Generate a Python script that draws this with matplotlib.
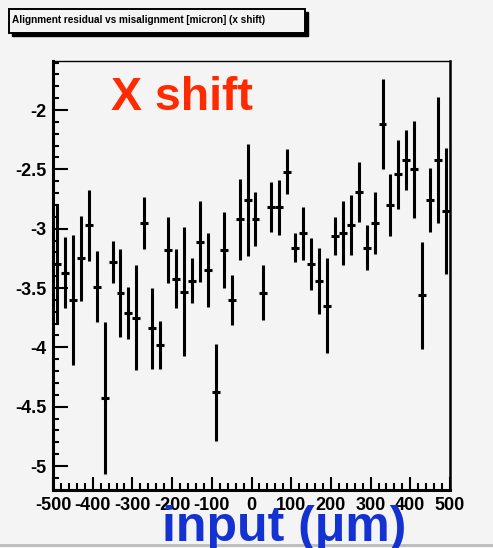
import matplotlib.pyplot as plt
from matplotlib.patches import Rectangle
from matplotlib.ticker import MultipleLocator

# bin centres (input misalignment, micron) and fitted residual with error
bin_centres = [-490, -470, -450, -430, -410, -390, -370, -350, -330, -310,
               -290, -270, -250, -230, -210, -190, -170, -150, -130, -110,
               -90, -70, -50, -30, -10, 10, 30, 50, 70, 90,
               110, 130, 150, 170, 190, 210, 230, 250, 270, 290,
               310, 330, 350, 370, 390, 410, 430, 450, 470, 490]
residual = [-3.30, -3.37, -3.60, -3.25, -2.97, -3.49, -4.43, -3.28, -3.54, -3.71,
            -3.75, -2.95, -3.84, -3.98, -3.18, -3.42, -3.53, -3.44, -3.11, -3.35,
            -4.38, -3.18, -3.60, -2.92, -2.76, -2.92, -3.54, -2.82, -2.82, -2.52,
            -3.16, -3.04, -3.30, -3.44, -3.65, -3.06, -3.04, -2.97, -2.69, -3.16,
            -2.95, -2.12, -2.80, -2.54, -2.42, -2.50, -3.56, -2.76, -2.42, -2.85]
residual_err = [0.50, 0.30, 0.55, 0.36, 0.30, 0.30, 0.64, 0.18, 0.37, 0.22,
                0.44, 0.22, 0.34, 0.20, 0.28, 0.25, 0.54, 0.19, 0.34, 0.31,
                0.41, 0.32, 0.21, 0.34, 0.47, 0.23, 0.23, 0.21, 0.23, 0.19,
                0.12, 0.22, 0.22, 0.28, 0.40, 0.16, 0.27, 0.25, 0.25, 0.19,
                0.26, 0.38, 0.26, 0.29, 0.25, 0.41, 0.45, 0.27, 0.53, 0.53]
bin_half_width = 10

W, H = 493, 548
bg = "#f4f4f4"
plt.rcParams["font.family"] = ["Liberation Sans", "DejaVu Sans"]
plt.rcParams["font.weight"] = "bold"
plt.rcParams["axes.unicode_minus"] = False

fig = plt.figure(figsize=(W / 100, H / 100), dpi=100, facecolor=bg)
ax = fig.add_axes([53 / W, 1 - 490 / H, (450 - 53) / W, (490 - 61) / H])
ax.set_facecolor(bg)

ax.errorbar(bin_centres, residual, yerr=residual_err, xerr=bin_half_width,
            fmt="none", ecolor="black", elinewidth=2.2, capsize=0)

ax.set_xlim(-500, 500)
ax.set_ylim(-5.202, -1.587)
ax.xaxis.set_major_locator(MultipleLocator(100))
ax.xaxis.set_minor_locator(MultipleLocator(20))
ax.yaxis.set_major_locator(MultipleLocator(0.5))
ax.yaxis.set_minor_locator(MultipleLocator(0.1))
ax.tick_params(which="both", direction="in", top=False, right=False,
               width=1.5, labelsize=13)
ax.tick_params(axis="x", which="major", length=9.5, pad=5)
ax.tick_params(axis="x", which="minor", length=5)
ax.tick_params(axis="y", which="major", length=10.5, pad=5)
ax.tick_params(axis="y", which="minor", length=4.5)
ax.set_yticks([-2, -2.5, -3, -3.5, -4, -4.5, -5])
ax.set_yticklabels(["-2", "-2.5", "-3", "-3.5", "-4", "-4.5", "-5"])
for lab in ax.get_xticklabels() + ax.get_yticklabels():
    lab.set_fontweight("bold")

ax.spines["left"].set_linewidth(2.2)
ax.spines["bottom"].set_linewidth(2.2)
ax.spines["right"].set_linewidth(1.8)
ax.spines["top"].set_linewidth(1.0)

# title box with shadow, ROOT style
fig.patches.append(Rectangle((12 / W, 1 - 36 / H), 296 / W, 24 / H,
                             transform=fig.transFigure, facecolor="black",
                             edgecolor="black", zorder=1))
fig.patches.append(Rectangle((9 / W, 1 - 33 / H), 296 / W, 24 / H,
                             transform=fig.transFigure, facecolor=bg,
                             edgecolor="black", linewidth=1.4, zorder=2))
fig.text(12 / W, 1 - 20 / H,
         "Alignment residual vs misalignment [micron] (x shift)",
         fontsize=7.2, fontweight="bold", va="center", ha="left", zorder=3)

fig.text(111 / W, 1 - 110 / H, "X shift", color="#ff2a00", fontsize=33.5,
         fontweight="bold", ha="left", va="baseline")
fig.text(284 / W, 1 - 541 / H, "input (μm)", color="#1432d2", fontsize=36,
         fontweight="bold", ha="center", va="baseline")

fig.add_artist(plt.Line2D([0, 1], [1 - 545 / H, 1 - 545 / H],
                          transform=fig.transFigure, color="#bbbbbb", lw=2))

fig.savefig("out.png", dpi=100, facecolor=bg)
